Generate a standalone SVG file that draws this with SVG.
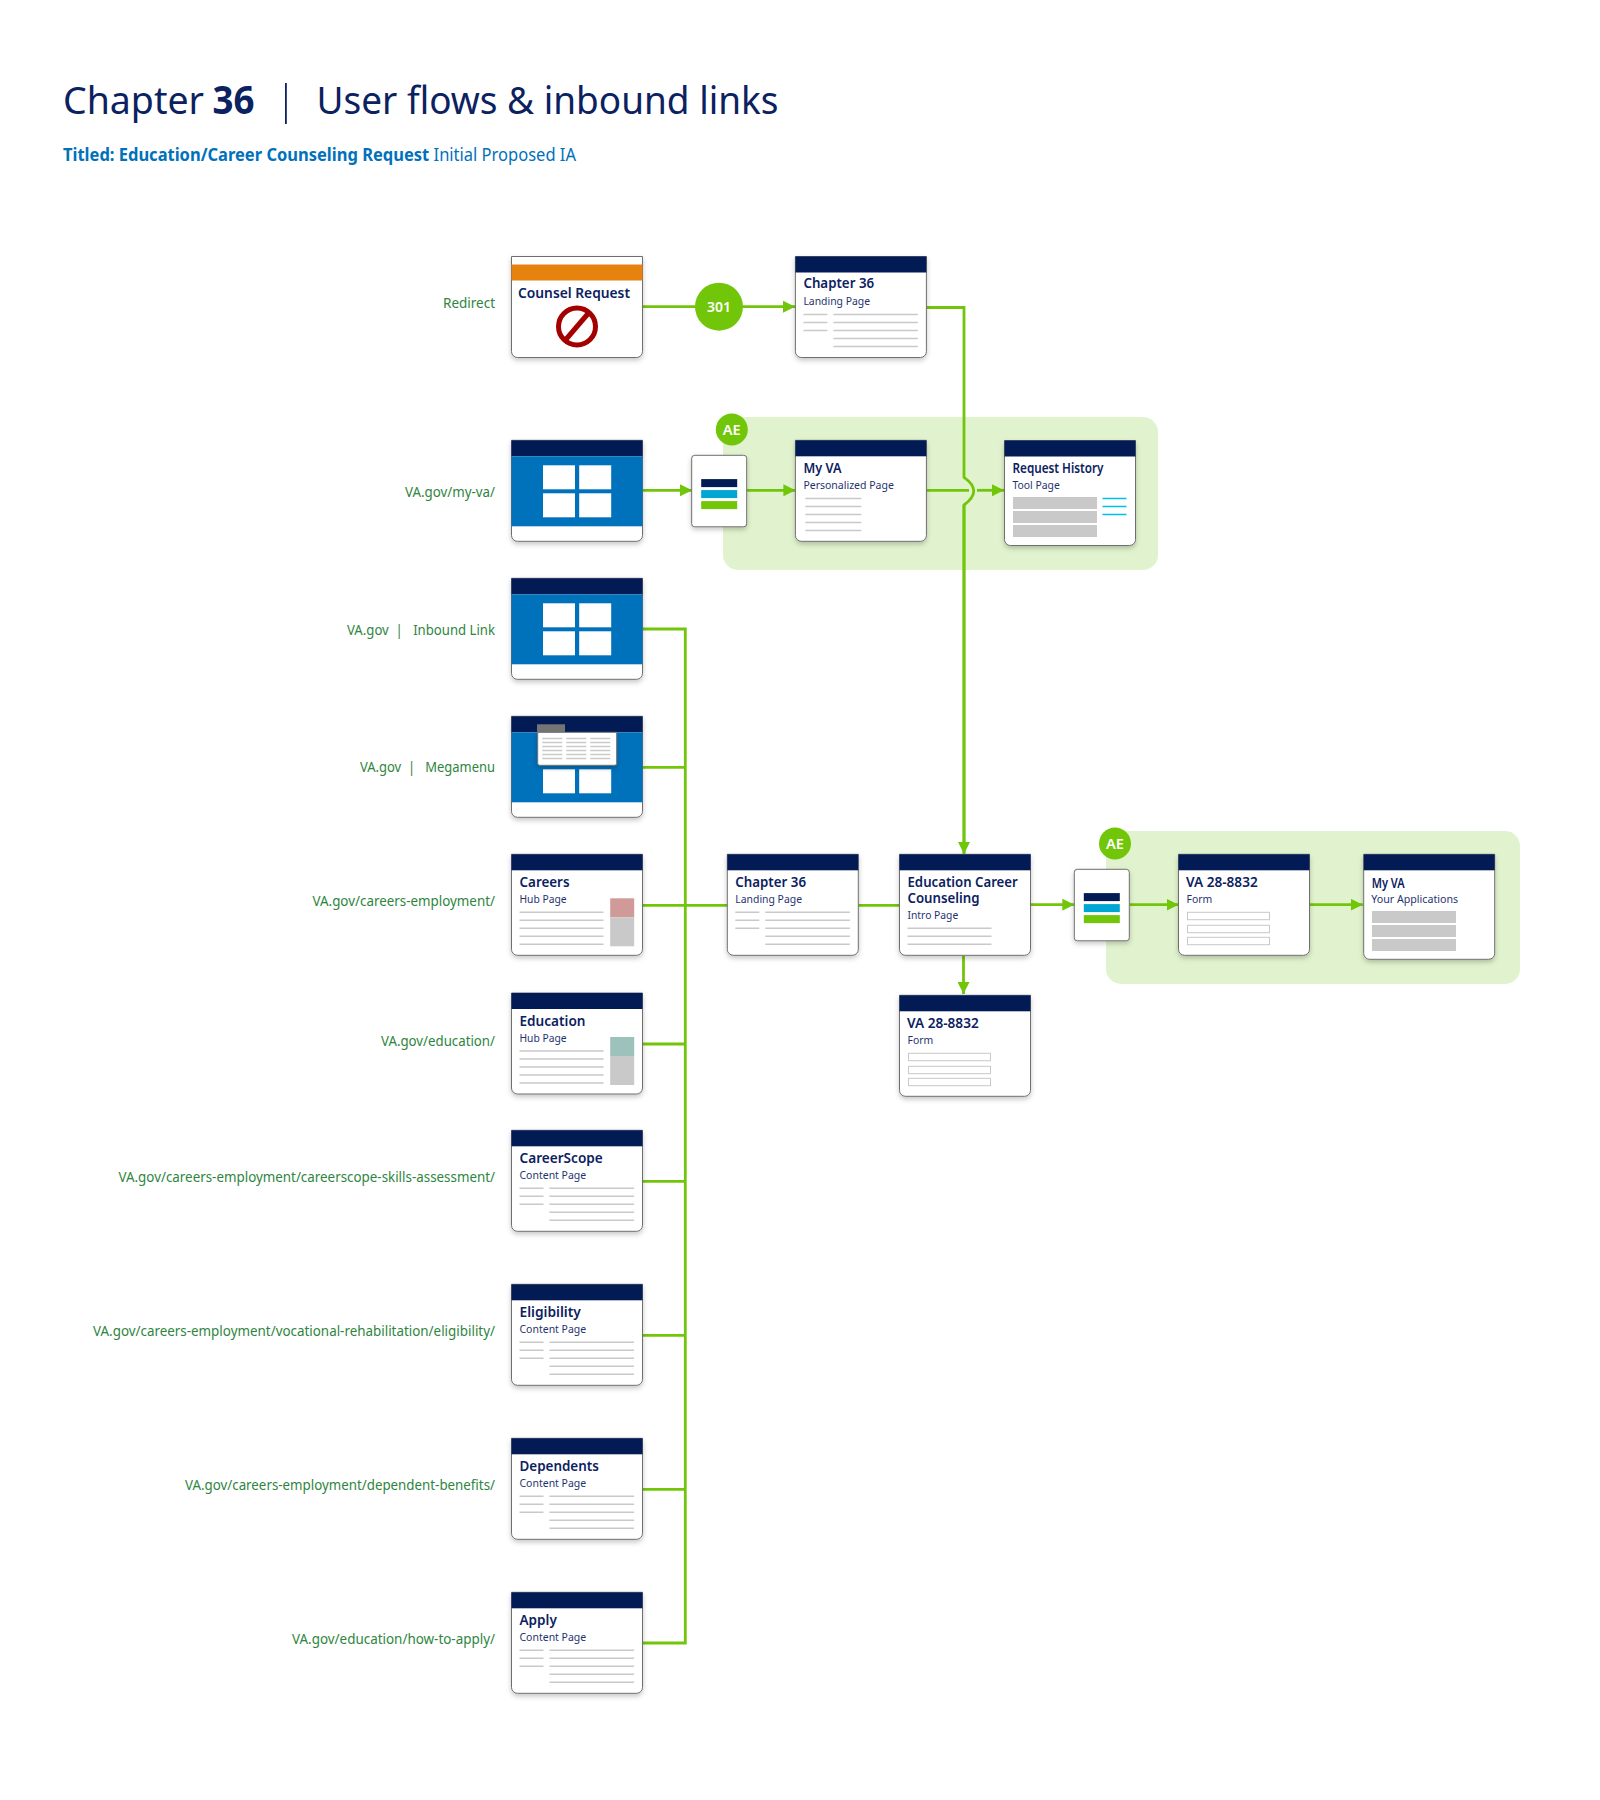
<svg xmlns="http://www.w3.org/2000/svg" xmlns:xlink="http://www.w3.org/1999/xlink" width="1600" height="1800" viewBox="0 0 1600 1800">
<style>
text{font-family:"Noto Sans","Open Sans","Liberation Sans",sans-serif}
.t{font-size:15px;font-weight:600;fill:#0b2160}
.s{font-size:11.5px;fill:#1f3370}
.lab{font-size:15px;fill:#2e8540;text-anchor:end}
.body{fill:#fff;stroke:#6e6e6e;stroke-width:1;filter:url(#sh)}
.hd{fill:#021b55}
.bl{fill:#0071bb}
.wh{fill:#fff}
.gr{fill:#c9c9c9}
.ln{stroke:#c9c9c9;stroke-width:1.5;fill:none}
.in{stroke:#c9c9c9;stroke-width:1;fill:#fff}
.cn{stroke:#72c60a;stroke-width:2.8;fill:none}
.arr{marker-end:url(#ah)}
.badge{fill:#72c60a}
.bt{fill:#fff;font-weight:600;font-size:14px;text-anchor:middle}
.panel{fill:#e1f3ce}
</style>
<defs>
<filter id="sh" x="-15%" y="-15%" width="130%" height="135%"><feDropShadow dx="0" dy="2.5" stdDeviation="2.5" flood-color="#000" flood-opacity="0.22"/></filter>
<marker id="ah" markerUnits="userSpaceOnUse" markerWidth="12" markerHeight="12" refX="12" refY="6" orient="auto"><path d="M0 0L12 6L0 12Z" fill="#72c60a"/></marker>
<path id="card" d="M0 0H131V95A6 6 0 0 1 125 101H6A6 6 0 0 1 0 95Z"/>
<path id="cardT" d="M0 0H131V99A6 6 0 0 1 125 105H6A6 6 0 0 1 0 99Z"/>
<g id="lines2col" class="ln"><path d="M8 58H32M8 66H32M8 74H32M38 58H122.5M38 66H122.5M38 74H122.5M38 82H122.5M38 90H122.5"/></g>
<g id="lines1col" class="ln"><path d="M8 58H92M8 66H92M8 74H92M8 82H92M8 90H92"/></g>
<g id="win"><rect class="bl" x="0" y="16" width="131" height="70"/><rect class="wh" x="31.5" y="25" width="32" height="24"/><rect class="wh" x="67.7" y="25" width="32" height="24"/><rect class="wh" x="31.5" y="53" width="32" height="24"/><rect class="wh" x="67.7" y="53" width="32" height="24"/></g>
<g id="sel"><path d="M3 0H52A3 3 0 0 1 55 3V68.500A3 3 0 0 1 52 71.500H3A3 3 0 0 1 0 68.500V3A3 3 0 0 1 3 0Z" class="body"/><rect x="9.500" y="23.800" width="36" height="8" fill="#021b55"/><rect x="9.500" y="34.800" width="36" height="8" fill="#00a6d2"/><rect x="9.500" y="45.800" width="36" height="8" fill="#72c60a"/></g>
</defs>
<rect width="1600" height="1800" fill="#fff"/>
<g id="title">
<text x="63" y="113.500" font-size="39" fill="#0b2160" textLength="141" lengthAdjust="spacingAndGlyphs">Chapter</text>
<text x="212.500" y="113.500" font-size="39" font-weight="700" fill="#0b2160" textLength="42" lengthAdjust="spacingAndGlyphs">36</text>
<rect x="285" y="83" width="1.800" height="41" fill="#0b2160"/>
<text x="316.500" y="113.500" font-size="39" fill="#0b2160" textLength="462" lengthAdjust="spacingAndGlyphs">User flows &amp; inbound links</text>
<text x="63" y="161" font-size="18.500" fill="#0071bb" textLength="513" lengthAdjust="spacingAndGlyphs"><tspan font-weight="700">Titled: Education/Career Counseling Request</tspan> Initial Proposed IA</text>
</g>
<g id="panels">
<rect class="panel" x="723" y="417" width="435" height="153" rx="15"/>
<rect class="panel" x="1106" y="831" width="414" height="153" rx="15"/>
</g>
<g id="connectors">
<path class="cn arr" d="M643 306.700H795"/>
<path class="cn" d="M926.500 307.500H964V477.300Q983.500 491 964 505V853"/>
<path class="cn arr" d="M964 505V854"/>
<path class="cn arr" d="M643 490.300H692"/>
<path class="cn arr" d="M746.300 490.300H795.400"/>
<path class="cn" d="M926.300 490.300H969"/>
<path class="cn arr" d="M977 490.300H1004"/>
<path class="cn" d="M643 629H685.300V1643H643"/>
<path class="cn" d="M643 767.300H685.300M643 905.300H899.500M643 1044H685.300M643 1181.300H685.300M643 1335.300H685.300M643 1489.300H685.300"/>
<path class="cn arr" d="M1030.700 904.700H1074.300"/>
<path class="cn arr" d="M963.500 955.700V994"/>
<path class="cn arr" d="M1129.700 904.700H1178.500"/>
<path class="cn arr" d="M1309.700 904.700H1362.800"/>
</g>
<g id="labels">
<text class="lab" x="495" y="308" textLength="52" lengthAdjust="spacingAndGlyphs">Redirect</text>
<text class="lab" x="495" y="497" textLength="90" lengthAdjust="spacingAndGlyphs">VA.gov/my-va/</text>
<text class="lab" x="495" y="634.500" textLength="148" lengthAdjust="spacingAndGlyphs">VA.gov&#160;&#160;|&#160;&#160;&#160;Inbound Link</text>
<text class="lab" x="495" y="771.500" textLength="135" lengthAdjust="spacingAndGlyphs">VA.gov&#160;&#160;|&#160;&#160;&#160;Megamenu</text>
<text class="lab" x="495" y="905.500" textLength="182.500" lengthAdjust="spacingAndGlyphs">VA.gov/careers-employment/</text>
<text class="lab" x="495" y="1046" textLength="114" lengthAdjust="spacingAndGlyphs">VA.gov/education/</text>
<text class="lab" x="495" y="1182" textLength="376.500" lengthAdjust="spacingAndGlyphs">VA.gov/careers-employment/careerscope-skills-assessment/</text>
<text class="lab" x="495" y="1335.500" textLength="402" lengthAdjust="spacingAndGlyphs">VA.gov/careers-employment/vocational-rehabilitation/eligibility/</text>
<text class="lab" x="495" y="1489.500" textLength="310" lengthAdjust="spacingAndGlyphs">VA.gov/careers-employment/dependent-benefits/</text>
<text class="lab" x="495" y="1643.500" textLength="203" lengthAdjust="spacingAndGlyphs">VA.gov/education/how-to-apply/</text>
</g>
<g id="badge-301"><circle class="badge" cx="719" cy="306.700" r="24"/><text class="bt" x="719" y="312" textLength="24" lengthAdjust="spacingAndGlyphs">301</text></g>
<g id="badge-ae-1"><circle class="badge" cx="731.800" cy="429.500" r="16"/><text class="bt" x="731.800" y="435" textLength="18" lengthAdjust="spacingAndGlyphs">AE</text></g>
<g id="badge-ae-2"><circle class="badge" cx="1115" cy="843.500" r="16"/><text class="bt" x="1115" y="849" textLength="18" lengthAdjust="spacingAndGlyphs">AE</text></g>
<g id="counsel-request" transform="translate(511.500,256.500)"><use href="#card" class="body"/><rect x="0" y="8" width="131" height="16" fill="#e6820e"/>
<text class="t" x="6.500" y="41.500" textLength="112" lengthAdjust="spacingAndGlyphs">Counsel Request</text>
<circle cx="65.500" cy="70" r="18.500" fill="none" stroke="#a50000" stroke-width="5"/><path d="M77.500 56L53.500 84" stroke="#a50000" stroke-width="5" fill="none"/></g>
<g id="chapter36-top" transform="translate(795.400,256.500)"><use href="#card" class="body"/><rect class="hd" width="131" height="16"/><text class="t" x="8" y="31.500" textLength="70.700" lengthAdjust="spacingAndGlyphs">Chapter 36</text><text class="s" x="8" y="48.500" textLength="66.700" lengthAdjust="spacingAndGlyphs">Landing Page</text><use href="#lines2col"/></g>
<g id="home-myva" transform="translate(511.500,440.300)"><use href="#card" class="body"/><rect class="hd" width="131" height="16"/><use href="#win"/></g>
<g id="selector-1" transform="translate(691.700,455.300)"><use href="#sel"/></g>
<g id="myva" transform="translate(795.400,440.300)"><use href="#card" class="body"/><rect class="hd" width="131" height="16"/><text class="t" x="8" y="32.500" textLength="38" lengthAdjust="spacingAndGlyphs">My VA</text><text class="s" x="8" y="49" textLength="90.400" lengthAdjust="spacingAndGlyphs">Personalized Page</text><path class="ln" d="M10 58.300H66M10 66.300H66M10 74.300H66M10 82.300H66M10 90.300H66"/></g>
<g id="request-history" transform="translate(1004.500,440.500)"><use href="#cardT" class="body"/><rect class="hd" width="131" height="16"/><text class="t" x="8" y="32" style="font-size:13.500px" textLength="91" lengthAdjust="spacingAndGlyphs">Request History</text><text class="s" x="8" y="48" textLength="47.300" lengthAdjust="spacingAndGlyphs">Tool Page</text><rect class="gr" x="8.500" y="56.500" width="84" height="12"/><rect class="gr" x="8.500" y="70.500" width="84" height="12"/><rect class="gr" x="8.500" y="84.500" width="84" height="12"/><path d="M98 58H122M98 66H122M98 74H122" stroke="#02bfe7" stroke-width="1.500" fill="none"/></g>
<g id="home-inbound" transform="translate(511.500,578.300)"><use href="#card" class="body"/><rect class="hd" width="131" height="16"/><use href="#win"/></g>
<g id="home-megamenu" transform="translate(511.500,716.300)"><use href="#card" class="body"/><rect class="hd" width="131" height="16"/><rect class="bl" y="16" width="131" height="70"/><rect class="wh" x="31.500" y="53" width="32" height="24"/><rect class="wh" x="67.700" y="53" width="32" height="24"/>
<rect x="25.500" y="8" width="28" height="8" fill="#757575"/><path d="M26.200 16H105.200V47A2 2 0 0 1 103.200 49H28.200A2 2 0 0 1 26.200 47Z" class="body"/>
<path class="ln" d="M30.800 22.300h20M30.800 26.300h20M30.800 30.300h20M30.800 34.300h20M30.800 38.300h20M30.800 42.300h20M54.800 22.300h20M54.800 26.300h20M54.800 30.300h20M54.800 34.300h20M54.800 38.300h20M54.800 42.300h20M78.800 22.300h20M78.800 26.300h20M78.800 30.300h20M78.800 34.300h20M78.800 38.300h20M78.800 42.300h20"/></g>
<g id="careers" transform="translate(511.500,854.300)"><use href="#card" class="body"/><rect class="hd" width="131" height="16"/><text class="t" x="8" y="33" textLength="50" lengthAdjust="spacingAndGlyphs">Careers</text><text class="s" x="8" y="49" textLength="47" lengthAdjust="spacingAndGlyphs">Hub Page</text><use href="#lines1col"/><rect x="98.700" y="44" width="24" height="19" fill="#d09a98"/><rect class="gr" x="98.700" y="63" width="24" height="29"/></g>
<g id="chapter36-mid" transform="translate(727.300,854.300)"><use href="#card" class="body"/><rect class="hd" width="131" height="16"/><text class="t" x="8" y="33" textLength="70.700" lengthAdjust="spacingAndGlyphs">Chapter 36</text><text class="s" x="8" y="49" textLength="66.700" lengthAdjust="spacingAndGlyphs">Landing Page</text><use href="#lines2col"/></g>
<g id="edu-career" transform="translate(899.500,854.300)"><use href="#card" class="body"/><rect class="hd" width="131" height="16"/><text class="t" x="8" y="33" textLength="110.300" lengthAdjust="spacingAndGlyphs">Education Career</text><text class="t" x="8" y="49" textLength="72" lengthAdjust="spacingAndGlyphs">Counseling</text><text class="s" x="8" y="65" textLength="50.700" lengthAdjust="spacingAndGlyphs">Intro Page</text><path class="ln" d="M8 74H92M8 82H92M8 90H92"/></g>
<g id="selector-2" transform="translate(1074.300,869.300)"><use href="#sel"/></g>
<g id="va-form-panel" transform="translate(1178.500,854.300)"><use href="#card" class="body"/><rect class="hd" width="131" height="16"/><text class="t" x="7.500" y="33" textLength="71.700" lengthAdjust="spacingAndGlyphs">VA 28-8832</text><text class="s" x="8" y="49" textLength="25.700" lengthAdjust="spacingAndGlyphs">Form</text><rect class="in" x="9" y="58" width="82" height="7.400"/><rect class="in" x="9" y="71" width="82" height="7.400"/><rect class="in" x="9" y="83" width="82" height="7.400"/></g>
<g id="myva-apps" transform="translate(1363.700,854.300)"><use href="#cardT" class="body"/><rect class="hd" width="131" height="16"/><text class="t" x="8" y="33.500" style="font-size:13.500px" textLength="33" lengthAdjust="spacingAndGlyphs">My VA</text><text class="s" x="7.500" y="49" textLength="87" lengthAdjust="spacingAndGlyphs">Your Applications</text><rect class="gr" x="8.300" y="56.700" width="84" height="12"/><rect class="gr" x="8.300" y="70.700" width="84" height="12"/><rect class="gr" x="8.300" y="84.700" width="84" height="12"/></g>
<g id="education" transform="translate(511.500,993)"><use href="#card" class="body"/><rect class="hd" width="131" height="16"/><text class="t" x="8" y="32.500" textLength="66" lengthAdjust="spacingAndGlyphs">Education</text><text class="s" x="8" y="48.500" textLength="47" lengthAdjust="spacingAndGlyphs">Hub Page</text><use href="#lines1col"/><rect x="98.700" y="44" width="24" height="19" fill="#9dc1bb"/><rect class="gr" x="98.700" y="63" width="24" height="29"/></g>
<g id="va-form" transform="translate(899.500,995.300)"><use href="#card" class="body"/><rect class="hd" width="131" height="16"/><text class="t" x="7.500" y="33" textLength="71.700" lengthAdjust="spacingAndGlyphs">VA 28-8832</text><text class="s" x="8" y="49" textLength="25.700" lengthAdjust="spacingAndGlyphs">Form</text><rect class="in" x="9" y="58" width="82" height="7.400"/><rect class="in" x="9" y="71" width="82" height="7.400"/><rect class="in" x="9" y="83" width="82" height="7.400"/></g>
<g id="careerscope" transform="translate(511.500,1130.300)"><use href="#card" class="body"/><rect class="hd" width="131" height="16"/><text class="t" x="8" y="33" textLength="83.300" lengthAdjust="spacingAndGlyphs">CareerScope</text><text class="s" x="8" y="49" textLength="66.700" lengthAdjust="spacingAndGlyphs">Content Page</text><use href="#lines2col"/></g>
<g id="eligibility" transform="translate(511.500,1284.300)"><use href="#card" class="body"/><rect class="hd" width="131" height="16"/><text class="t" x="8" y="33" textLength="61.300" lengthAdjust="spacingAndGlyphs">Eligibility</text><text class="s" x="8" y="49" textLength="66.700" lengthAdjust="spacingAndGlyphs">Content Page</text><use href="#lines2col"/></g>
<g id="dependents" transform="translate(511.500,1438.300)"><use href="#card" class="body"/><rect class="hd" width="131" height="16"/><text class="t" x="8" y="33" textLength="79.300" lengthAdjust="spacingAndGlyphs">Dependents</text><text class="s" x="8" y="49" textLength="66.700" lengthAdjust="spacingAndGlyphs">Content Page</text><use href="#lines2col"/></g>
<g id="apply" transform="translate(511.500,1592.300)"><use href="#card" class="body"/><rect class="hd" width="131" height="16"/><text class="t" x="8" y="33" textLength="37.300" lengthAdjust="spacingAndGlyphs">Apply</text><text class="s" x="8" y="49" textLength="66.700" lengthAdjust="spacingAndGlyphs">Content Page</text><use href="#lines2col"/></g>
</svg>
